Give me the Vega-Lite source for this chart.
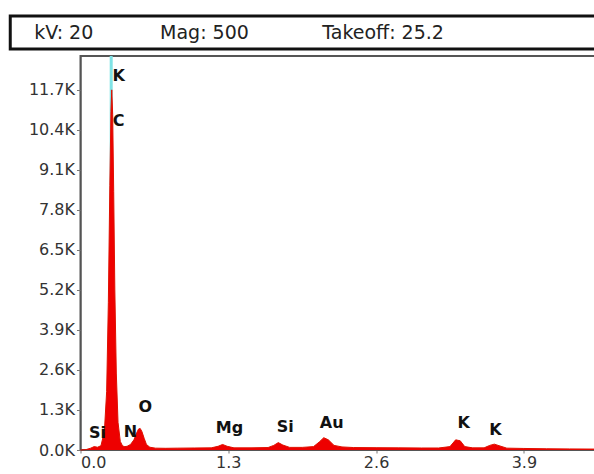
{
  "$schema": "https://vega.github.io/schema/vega-lite/v6.json",
  "background": "white",
  "padding": {"left": 8, "top": 14, "right": 0, "bottom": 0},
  "spacing": 2,
  "center": true,
  "config": {"font": "DejaVu Sans"},
  "datasets": {
    "header": [
      {"label": "kV: 20", "pos": 3.65},
      {"label": "Mag: 500", "pos": 22.8},
      {"label": "Takeoff: 25.2", "pos": 47.5}
    ],
    "spectrum": [
      {"keV": 0.00, "counts": 0}, {"keV": 0.05, "counts": 15}, {"keV": 0.09, "counts": 60},
      {"keV": 0.12, "counts": 110}, {"keV": 0.15, "counts": 90}, {"keV": 0.18, "counts": 140},
      {"keV": 0.21, "counts": 600}, {"keV": 0.23, "counts": 1900}, {"keV": 0.245, "counts": 4800},
      {"keV": 0.258, "counts": 8600}, {"keV": 0.268, "counts": 11000}, {"keV": 0.275, "counts": 11700},
      {"keV": 0.283, "counts": 10900}, {"keV": 0.292, "counts": 8400}, {"keV": 0.302, "counts": 5200},
      {"keV": 0.315, "counts": 2500}, {"keV": 0.33, "counts": 900}, {"keV": 0.35, "counts": 280},
      {"keV": 0.37, "counts": 130}, {"keV": 0.39, "counts": 110}, {"keV": 0.41, "counts": 120},
      {"keV": 0.44, "counts": 180}, {"keV": 0.47, "counts": 330}, {"keV": 0.49, "counts": 520},
      {"keV": 0.51, "counts": 680}, {"keV": 0.525, "counts": 700}, {"keV": 0.54, "counts": 600},
      {"keV": 0.56, "counts": 380}, {"keV": 0.58, "counts": 180}, {"keV": 0.61, "counts": 90},
      {"keV": 0.66, "counts": 60}, {"keV": 0.75, "counts": 55}, {"keV": 0.85, "counts": 60},
      {"keV": 1.0, "counts": 65}, {"keV": 1.15, "counts": 70}, {"keV": 1.21, "counts": 120},
      {"keV": 1.25, "counts": 180}, {"keV": 1.29, "counts": 120}, {"keV": 1.35, "counts": 70},
      {"keV": 1.5, "counts": 70}, {"keV": 1.65, "counts": 80}, {"keV": 1.70, "counts": 150},
      {"keV": 1.74, "counts": 240}, {"keV": 1.78, "counts": 160}, {"keV": 1.84, "counts": 85},
      {"keV": 1.95, "counts": 85}, {"keV": 2.05, "counts": 110}, {"keV": 2.10, "counts": 260},
      {"keV": 2.14, "counts": 400}, {"keV": 2.18, "counts": 330}, {"keV": 2.23, "counts": 150},
      {"keV": 2.3, "counts": 100}, {"keV": 2.4, "counts": 80}, {"keV": 2.6, "counts": 75},
      {"keV": 2.8, "counts": 70}, {"keV": 3.0, "counts": 65}, {"keV": 3.15, "counts": 65},
      {"keV": 3.25, "counts": 110}, {"keV": 3.30, "counts": 330}, {"keV": 3.34, "counts": 300},
      {"keV": 3.38, "counts": 110}, {"keV": 3.45, "counts": 70}, {"keV": 3.55, "counts": 70},
      {"keV": 3.60, "counts": 150}, {"keV": 3.64, "counts": 190}, {"keV": 3.69, "counts": 130},
      {"keV": 3.75, "counts": 60}, {"keV": 3.9, "counts": 50}, {"keV": 4.1, "counts": 40},
      {"keV": 4.3, "counts": 35}, {"keV": 4.53, "counts": 30}
    ],
    "labels": [
      {"el": "K", "keV": 0.335, "counts": 12150},
      {"el": "C", "keV": 0.335, "counts": 10700},
      {"el": "Si", "keV": 0.15, "counts": 550},
      {"el": "N", "keV": 0.44, "counts": 580},
      {"el": "O", "keV": 0.57, "counts": 1400},
      {"el": "Mg", "keV": 1.31, "counts": 710},
      {"el": "Si", "keV": 1.80, "counts": 750},
      {"el": "Au", "keV": 2.21, "counts": 880},
      {"el": "K", "keV": 3.37, "counts": 880},
      {"el": "K", "keV": 3.65, "counts": 650}
    ],
    "marker": [{"keV": 0.27, "y0": 0, "y1": 12800}]
  },
  "vconcat": [
    {
      "width": 657,
      "height": 33,
      "view": {"stroke": "#111", "strokeWidth": 3},
      "data": {"name": "header"},
      "mark": {"type": "text", "align": "left", "baseline": "middle", "fontSize": 19, "color": "#222", "font": "DejaVu Sans"},
      "encoding": {
        "x": {"field": "pos", "type": "quantitative", "scale": {"domain": [0, 100]}, "axis": null},
        "text": {"field": "label", "type": "nominal"}
      }
    },
    {
      "width": 515,
      "height": 394,
      "view": {"stroke": "#555", "strokeWidth": 2},
      "layer": [
        {
          "data": {"name": "marker"},
          "mark": {"type": "rule", "color": "#7fe3e6", "strokeWidth": 3},
          "encoding": {
            "x": {"field": "keV", "type": "quantitative"},
            "y": {"field": "y0", "type": "quantitative"},
            "y2": {"field": "y1"}
          }
        },
        {
          "data": {"name": "spectrum"},
          "mark": {"type": "area", "color": "#ee0000", "opacity": 1, "line": {"color": "#e01000", "strokeWidth": 1}},
          "encoding": {
            "x": {"field": "keV", "type": "quantitative", "scale": {"domain": [0, 4.53], "nice": false},
              "axis": {"values": [0, 1.3, 2.6, 3.9], "format": ".1f", "title": null, "grid": false,
                "labelFontSize": 16, "labelColor": "#333", "tickSize": 3, "tickColor": "#777", "domainColor": "#555", "labelPadding": 1}},
            "y": {"field": "counts", "type": "quantitative", "scale": {"domain": [0, 12800], "nice": false},
              "axis": {"values": [0, 1300, 2600, 3900, 5200, 6500, 7800, 9100, 10400, 11700],
                "labelExpr": "format(datum.value / 1000, '.1f') + 'K'", "title": null, "grid": false,
                "labelFontSize": 16, "labelColor": "#333", "tickSize": 4, "tickColor": "#777", "domainColor": "#555",
                "labelPadding": 2, "minExtent": 71, "maxExtent": 71}}
          }
        },
        {
          "data": {"name": "labels"},
          "mark": {"type": "text", "fontSize": 16, "fontWeight": "bold", "color": "#111", "baseline": "middle"},
          "encoding": {
            "x": {"field": "keV", "type": "quantitative"},
            "y": {"field": "counts", "type": "quantitative"},
            "text": {"field": "el", "type": "nominal"}
          }
        }
      ]
    }
  ]
}
